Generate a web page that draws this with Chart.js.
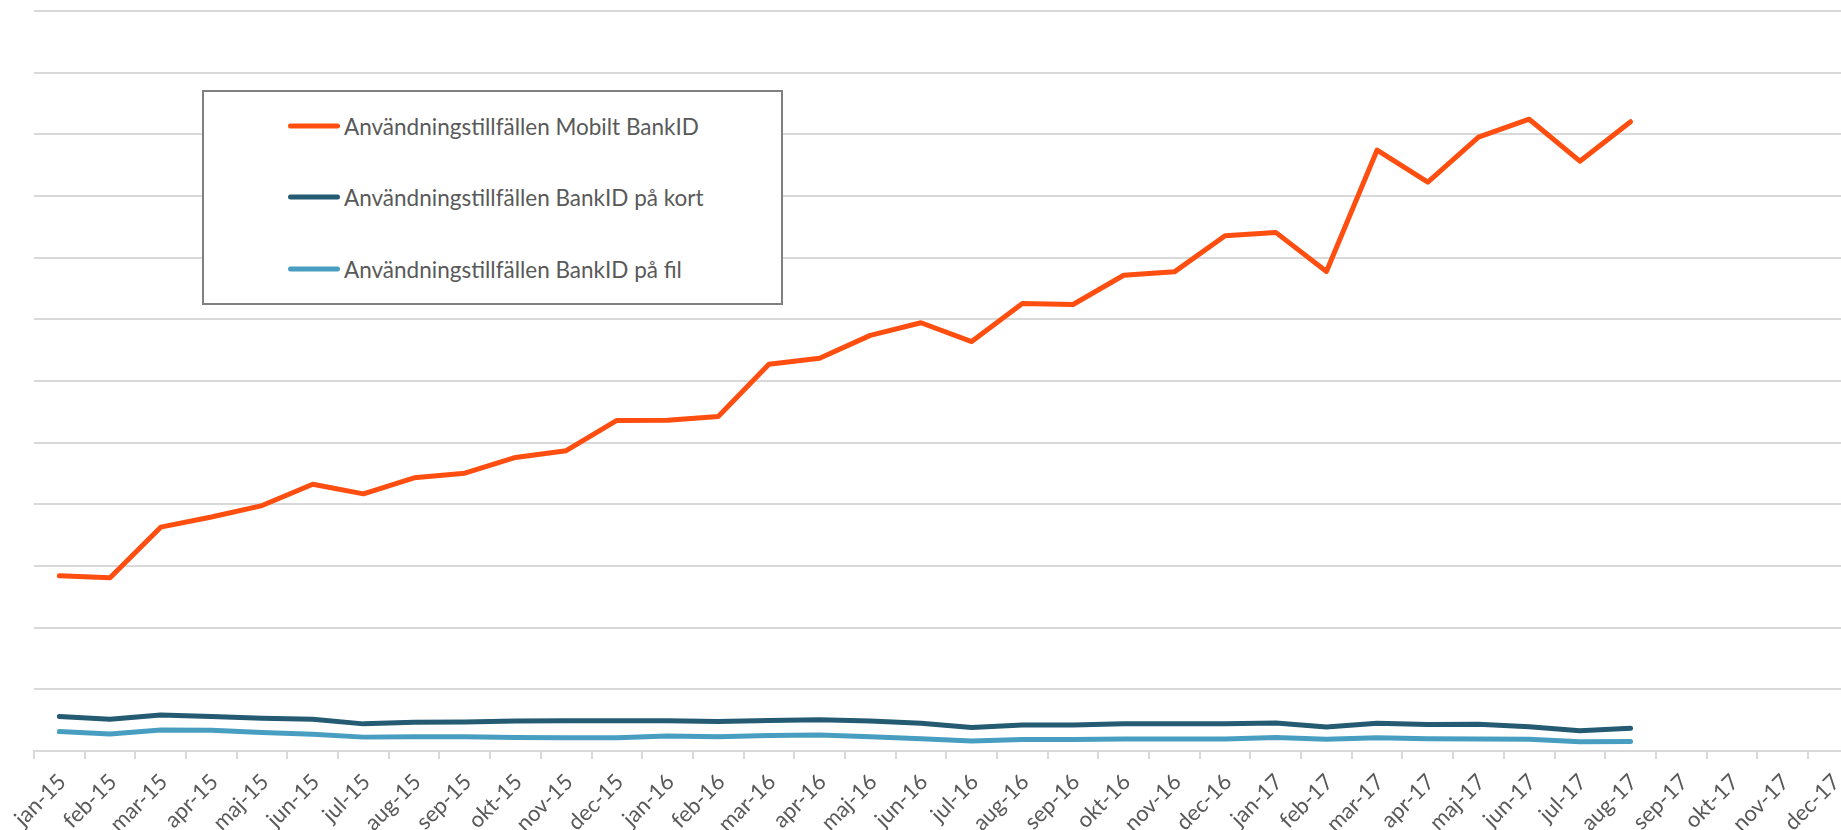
<!DOCTYPE html>
<html lang="sv">
<head>
<meta charset="utf-8">
<title>Användningstillfällen BankID</title>
<script src="https://cdn.jsdelivr.net/npm/chart.js"></script>
<style>
  html, body { margin: 0; padding: 0; background: #fff; overflow: hidden; }
  #wrap { position: relative; width: 1862px; height: 830px; }
  #legend {
    position: absolute; left: 202px; top: 90px; width: 577px; height: 211px;
    border: 2px solid #808080; background: #fff;
    font-family: Lato, "Open Sans", sans-serif; font-size: 22.5px; color: #595959;
  }
  .item { position: absolute; left: 84px; display: flex; align-items: center; transform: translateY(-50%); white-space: nowrap; }
  .swatch { width: 52px; height: 5px; border-radius: 3px; margin-right: 4px; }
</style>
</head>
<body>
<div id="wrap">
  <canvas id="chart"></canvas>
  <div id="legend"></div>
</div>
<script>
// Month labels, jan-15 .. dec-17
const months = [
  'jan-15', 'feb-15', 'mar-15', 'apr-15', 'maj-15', 'jun-15', 'jul-15', 'aug-15', 'sep-15', 'okt-15', 'nov-15', 'dec-15',
  'jan-16', 'feb-16', 'mar-16', 'apr-16', 'maj-16', 'jun-16', 'jul-16', 'aug-16', 'sep-16', 'okt-16', 'nov-16', 'dec-16',
  'jan-17', 'feb-17', 'mar-17', 'apr-17', 'maj-17', 'jun-17', 'jul-17', 'aug-17', 'sep-17', 'okt-17', 'nov-17', 'dec-17'
];

// Monthly usage (millions) - data runs to aug-17
const mobiltBankID = [
  56.8, 56.2, 72.6, 75.9, 79.6, 86.5, 83.4, 88.6, 90.1, 95.2, 97.4, 107.2,
  107.3, 108.5, 125.4, 127.4, 134.8, 138.9, 132.8, 145.1, 144.8, 154.3, 155.4, 167.1,
  168.2, 155.5, 194.9, 184.5, 199.1, 204.9, 191.3, 204.1
];
const bankIdKort = [
  11.2, 10.3, 11.7, 11.2, 10.6, 10.3, 8.8, 9.3, 9.4, 9.7, 9.8, 9.8,
  9.8, 9.6, 9.9, 10.1, 9.7, 9.0, 7.6, 8.4, 8.4, 8.8, 8.8, 8.8,
  9.1, 7.8, 9.0, 8.6, 8.7, 7.9, 6.6, 7.4
];
const bankIdFil = [
  6.3, 5.5, 6.8, 6.7, 6.0, 5.4, 4.5, 4.6, 4.6, 4.4, 4.3, 4.3,
  4.9, 4.6, 5.0, 5.2, 4.6, 4.0, 3.25, 3.7, 3.7, 3.9, 3.9, 3.9,
  4.4, 3.8, 4.3, 4.0, 3.9, 3.8, 3.0, 3.1
];

const seriesNames = [
  'Användningstillfällen Mobilt BankID',
  'Användningstillfällen BankID på kort',
  'Användningstillfällen BankID på fil'
];
const seriesColors = ['#FF4E10', '#245B73', '#489EC1'];

const gridColor = '#d9d9d9';
const textColor = '#595959';

function lineSet(i, data) {
  return {
    label: seriesNames[i],
    data: data,
    borderColor: seriesColors[i],
    backgroundColor: seriesColors[i],
    borderWidth: 5,
    borderCapStyle: 'round',
    borderJoinStyle: 'round',
    pointRadius: 0,
    tension: 0,
    fill: false
  };
}

const chart = new Chart(document.getElementById('chart'), {
  type: 'line',
  data: {
    labels: months,
    datasets: [
      lineSet(0, mobiltBankID),
      lineSet(1, bankIdKort),
      lineSet(2, bankIdFil)
    ]
  },
  options: {
    responsive: true,
    maintainAspectRatio: false,
    animation: false,
    layout: { padding: { left: 34, top: 11, right: 3, bottom: 0 } },
    plugins: {
      legend: { display: false },
      tooltip: { enabled: false }
    },
    scales: {
      x: {
        offset: true,
        grid: {
          offset: true,
          drawOnChartArea: false,
          drawTicks: true,
          tickLength: 8,
          color: gridColor,
          lineWidth: 2
        },
        border: { color: gridColor, width: 2 },
        ticks: {
          autoSkip: false,
          minRotation: 45,
          maxRotation: 45,
          padding: 10,
          labelOffset: 3,
          color: textColor,
          font: { family: 'Lato, "Open Sans", sans-serif', size: 22 }
        },
        afterFit: (scale) => { scale.height = 79; }
      },
      y: {
        min: 0,
        max: 240,
        ticks: { display: false, stepSize: 20 },
        grid: { color: gridColor, lineWidth: 2, drawTicks: false },
        border: { display: false }
      }
    }
  }
});

// HTML legend inside the plot, built from the datasets
const legendEl = document.getElementById('legend');
const itemCenters = [34, 105, 177];
chart.data.datasets.forEach((ds, i) => {
  const item = document.createElement('div');
  item.className = 'item';
  item.style.top = itemCenters[i] + 'px';
  const sw = document.createElement('span');
  sw.className = 'swatch';
  sw.style.background = ds.borderColor;
  const label = document.createElement('span');
  label.textContent = ds.label;
  item.appendChild(sw);
  item.appendChild(label);
  legendEl.appendChild(item);
});
</script>
</body>
</html>
